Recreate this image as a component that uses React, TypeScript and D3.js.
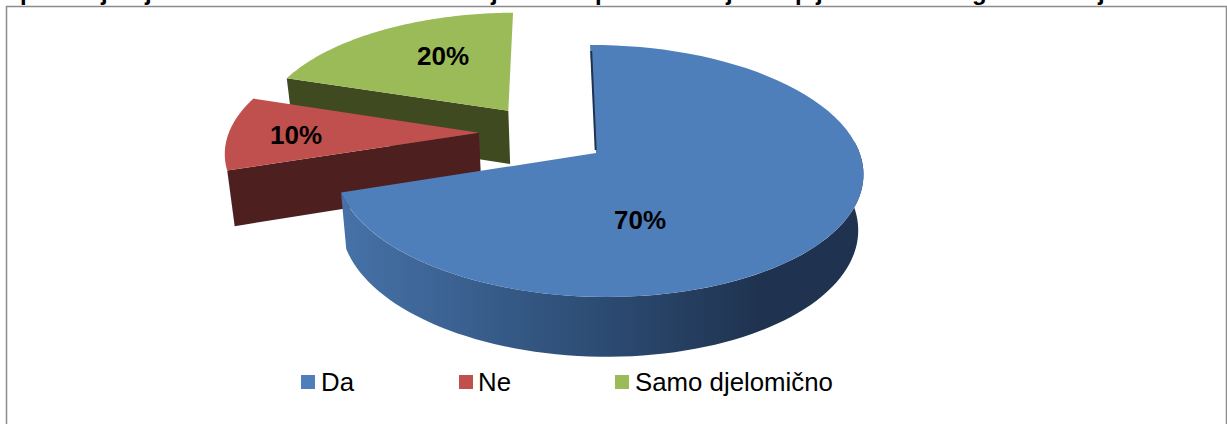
import React from "react";
import * as d3 from "d3";

const categories = ["Da", "Ne", "Samo djelomično"];
const values = [70, 10, 20];
const labels = ["70%", "10%", "20%"];
const topColors = ["#4f7fba", "#c0504d", "#9bbb59"];
const sideColors = ["#1f3350", "#4d1f1f", "#3f4a21"];
const explodeU = [0, -0.457, -0.345];
const explodeV = [0, -0.168, -0.362];
const labelPos = [[640, 229], [296, 144], [443, 65]];
const legendSquareX = [301, 459, 615];
const legendTextX = [321, 478, 635];
// Only the descenders of the cropped title line are visible in the picture.
const titleGlyphs = ["p", "j", "j", "j", "p", "j", "p", "j", "g", "j"];
const titleGlyphX = [20, 101, 145, 491, 595, 726, 795, 816, 972, 1098];

const CX = 596, CY = 153, R = 261, S = 123.4, K = 1 / 7, M = 0.01, SK = 6.86, D0 = 55, DK = 0.08, SIDE = 0.98, SCX = 600;

type P = [number, number];
function project(u: number, v: number, z: number): P {
  const w = 1 - K * v - M * u;
  const x = CX + (R * u + SK * v) / w;
  const y = CY + (S * v) / w;
  if (!z) return [x, y];
  return [SCX + (x - SCX) * SIDE, y + D0 / (1 - DK * v)];
}
const rim = (a: number, i: number, z = 0) =>
  project(explodeU[i] + Math.sin(a), explodeV[i] - Math.cos(a), z);
const apex = (i: number, z = 0) => project(explodeU[i], explodeV[i], z);
const arcPts = (a0: number, a1: number, i: number, z = 0) => {
  const n = 80;
  return d3.range(n + 1).map((k) => rim(a0 + ((a1 - a0) * k) / n, i, z));
};

const pieData = d3.pie<number>().sort(null)(values);
const line = d3.line();
const closed = (pts: P[]) => (line(pts) as string) + "Z";

export default function App() {
  const blue = pieData[0];
  const red = pieData[1];
  const green = pieData[2];
  const blueSide = closed([
    ...arcPts(Math.PI * 0.47, blue.endAngle, 0),
    ...arcPts(Math.PI * 0.47, blue.endAngle, 0, 1).reverse(),
  ]);
  const faceQuad = (i: number, a: number) =>
    closed([apex(i), rim(a, i), rim(a, i, 1), apex(i, 1)]);
  const slice = (i: number, a0: number, a1: number) =>
    closed([apex(i), ...arcPts(a0, a1, i)]);
  const s0 = rim(0, 0);
  const a0 = apex(0);
  return (
    <svg width={1227} height={424} style={{ position: "absolute", left: 0, top: 0, background: "#fff" }}
      fontFamily="'Liberation Sans', Arial, sans-serif">
      <defs>
        <linearGradient id="blueSide" gradientUnits="userSpaceOnUse" x1={342} x2={760} y1={0} y2={0}>
          <stop offset="0" stopColor="#4672a8" />
          <stop offset="0.55" stopColor="#2f5079" />
          <stop offset="1" stopColor="#1f3350" />
        </linearGradient>
      </defs>
      <text fontSize={24} fontWeight="bold" y={0} fill="#000">
        {titleGlyphs.map((g, i) => (
          <tspan key={i} x={titleGlyphX[i]}>{g}</tspan>
        ))}
      </text>
      <path d="M6.5,424V6.5H1226.5V424" fill="none" stroke="#8c8c8c" strokeWidth={1.5} />

      <path d={faceQuad(2, green.startAngle)} fill={sideColors[2]} />
      <path d={slice(2, green.startAngle, green.endAngle)} fill={topColors[2]} />
      <path d={faceQuad(1, red.startAngle)} fill={sideColors[1]} />
      <path d={slice(1, red.startAngle, red.endAngle)} fill={topColors[1]} />
      <path d={blueSide} fill="url(#blueSide)" />
      <path d={slice(0, blue.startAngle, blue.endAngle)} fill={topColors[0]} />
      <path d={line([[s0[0] + 1.2, s0[1] + 6], [a0[0] - 0.3, a0[1] - 3]]) as string} stroke={sideColors[0]} strokeWidth={2} fill="none" />

      {labels.map((t, i) => (
        <text key={t} x={labelPos[i][0]} y={labelPos[i][1]} textAnchor="middle" fontSize={26} fontWeight="bold" fill="#000">{t}</text>
      ))}
      {categories.map((c, i) => (
        <g key={c}>
          <rect x={legendSquareX[i]} y={375} width={14} height={14} fill={topColors[i]} />
          <text x={legendTextX[i]} y={391} fontSize={25.8} fill="#000">{c}</text>
        </g>
      ))}
    </svg>
  );
}
